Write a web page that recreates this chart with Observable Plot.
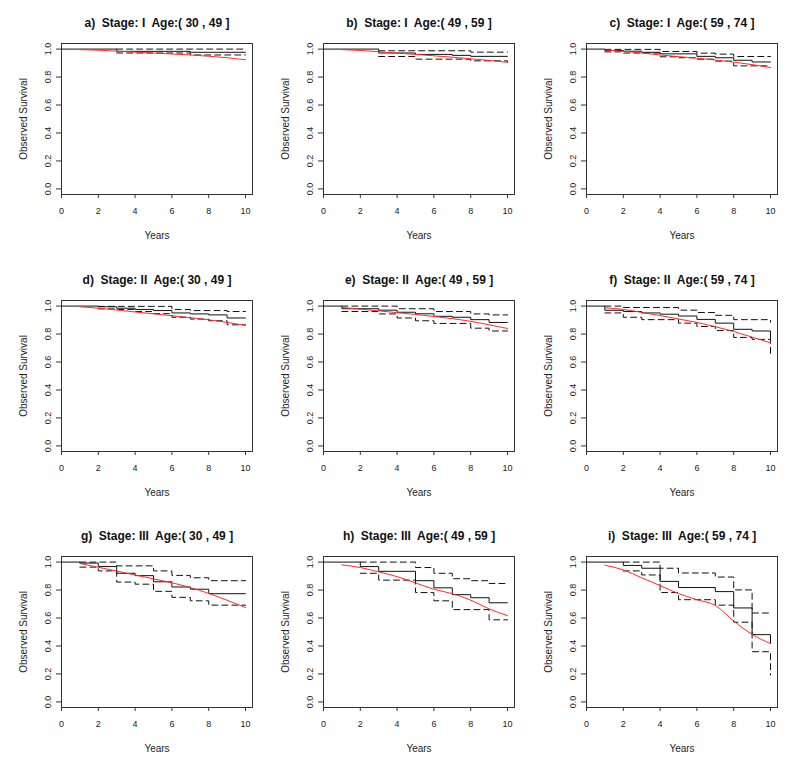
<!DOCTYPE html>
<html><head><meta charset="utf-8">
<script src="https://cdn.jsdelivr.net/npm/d3@7"></script>
<script src="https://cdn.jsdelivr.net/npm/@observablehq/plot@0.6"></script>
<style>
body{margin:0;background:#fff;}
#grid{position:relative;width:800px;height:770px;}
.panel{position:absolute;width:263px;height:257px;}
</style></head><body><div id="grid"></div>
<script>
// ---- data ----
const panelIds = ["a","b","c","d","e","f","g","h","i"];
const stages = ["I","I","I","II","II","II","III","III","III"];
const ageGroups = ["( 30 , 49 ]","( 49 , 59 ]","( 59 , 74 ]","( 30 , 49 ]","( 49 , 59 ]","( 59 , 74 ]","( 30 , 49 ]","( 49 , 59 ]","( 59 , 74 ]"];
const yearTicks = [0,2,4,6,8,10];
const survTicks = [0,0.2,0.4,0.6,0.8,1.0];
const expectedYears = [1,2,3,4,5,6,7,8,9,10];

// observed Kaplan-Meier [year, survival]
const obsA = [[0,1],[3,0.984],[7,0.977],[10,0.977]];
const obsB = [[0,1],[3,0.972],[5,0.962],[7,0.955],[8,0.948],[10,0.948]];
const obsC = [[0,1],[1,0.99],[2,0.985],[3,0.977],[4,0.966],[6,0.948],[7,0.938],[8,0.92],[9,0.908],[10,0.908]];
const obsD = [[0,1],[2,0.995],[3,0.985],[4,0.976],[5,0.968],[6,0.951],[7,0.944],[8,0.937],[9,0.915],[10,0.915]];
const obsE = [[0,1],[1,0.981],[3,0.971],[4,0.956],[5,0.945],[6,0.927],[7,0.92],[8,0.903],[9,0.883],[10,0.883]];
const obsF = [[0,1],[1,0.97],[2,0.961],[3,0.951],[4,0.942],[5,0.929],[6,0.905],[7,0.878],[8,0.834],[9,0.822],[10,0.745]];
const obsG = [[0,1],[1,0.993],[2,0.968],[3,0.92],[4,0.903],[5,0.859],[6,0.822],[7,0.806],[8,0.774],[10,0.774]];
const obsH = [[0,1],[2,0.968],[3,0.934],[5,0.867],[6,0.816],[7,0.767],[8,0.745],[9,0.709],[10,0.709]];
const obsI = [[0,1],[2,0.976],[3,0.956],[4,0.862],[5,0.818],[7,0.789],[8,0.672],[9,0.481],[10,0.42]];

// lower confidence limit
const loA = [[3,0.972],[7,0.958],[10,0.958]];
const loB = [[3,0.947],[5,0.928],[8,0.916],[10,0.905]];
const loC = [[1,0.98],[2,0.972],[4,0.945],[5,0.938],[6,0.928],[7,0.914],[8,0.88],[10,0.88]];
const loD = [[2,0.98],[3,0.976],[4,0.961],[5,0.946],[6,0.92],[7,0.907],[8,0.895],[9,0.866],[10,0.866]];
const loE = [[1,0.961],[3,0.944],[4,0.915],[5,0.895],[6,0.876],[8,0.842],[9,0.822],[10,0.822]];
const loF = [[1,0.951],[2,0.92],[3,0.903],[5,0.878],[6,0.854],[7,0.825],[8,0.776],[9,0.762],[10,0.66]];
const loG = [[1,0.964],[2,0.937],[3,0.857],[4,0.842],[5,0.791],[6,0.748],[7,0.723],[8,0.692],[10,0.692]];
const loH = [[2,0.92],[3,0.871],[5,0.782],[6,0.723],[7,0.66],[9,0.587],[10,0.587]];
const loI = [[2,0.937],[3,0.908],[4,0.782],[5,0.731],[7,0.692],[8,0.57],[9,0.359],[10,0.192]];

// upper confidence limit
const hiA = [[3,1],[10,1]];
const hiB = [[3,0.988],[8,0.978],[10,0.978]];
const hiC = [[1,0.998],[4,0.983],[6,0.971],[7,0.964],[8,0.947],[10,0.947]];
const hiD = [[2,0.998],[6,0.976],[7,0.968],[9,0.961],[10,0.961]];
const hiE = [[1,1],[4,0.981],[6,0.961],[8,0.944],[9,0.937],[10,0.937]];
const hiF = [[1,1],[2,0.99],[5,0.971],[6,0.954],[7,0.934],[8,0.903],[10,0.885]];
const hiG = [[1,1],[3,0.973],[5,0.937],[6,0.905],[7,0.888],[8,0.867],[10,0.867]];
const hiH = [[2,1],[5,0.961],[6,0.92],[7,0.881],[8,0.867],[9,0.847],[10,0.847]];
const hiI = [[2,1],[4,0.956],[5,0.922],[7,0.893],[8,0.801],[9,0.636],[10,0.636]];

// expected survival (red), at years 1..10
const expA = [0.996,0.992,0.985,0.978,0.972,0.965,0.958,0.949,0.938,0.924];
const expB = [0.996,0.99,0.981,0.971,0.962,0.952,0.942,0.931,0.919,0.905];
const expC = [0.993,0.984,0.972,0.958,0.946,0.935,0.922,0.907,0.889,0.868];
const expD = [0.995,0.985,0.972,0.958,0.945,0.931,0.917,0.902,0.883,0.862];
const expE = [0.99,0.978,0.966,0.953,0.94,0.926,0.91,0.891,0.866,0.84];
const expF = [0.988,0.976,0.955,0.932,0.908,0.883,0.853,0.818,0.778,0.737];
const expG = [0.99,0.963,0.936,0.908,0.88,0.852,0.818,0.776,0.727,0.675];
const expH = [0.98,0.961,0.93,0.896,0.851,0.806,0.774,0.728,0.665,0.617];
const expI = [0.978,0.944,0.888,0.832,0.775,0.731,0.69,0.578,0.483,0.417];

const observed = [obsA,obsB,obsC,obsD,obsE,obsF,obsG,obsH,obsI];
const lower = [loA,loB,loC,loD,loE,loF,loG,loH,loI];
const upper = [hiA,hiB,hiC,hiD,hiE,hiF,hiG,hiH,hiI];
const expected = [expA,expB,expC,expD,expE,expF,expG,expH,expI];

// ---- layout ----
const colX = [0,262,525];
const rowY = [0,257,513];
const FONT = "Liberation Sans, Arial, Helvetica, sans-serif";
const grid = document.getElementById("grid");
const SP2 = "\u00a0 "; // double space as in the original titles

panelIds.forEach((id, i) => {
  const col = i % 3, row = Math.floor(i / 3);
  const title = `${id})${SP2}Stage: ${stages[i]}${SP2}Age:${ageGroups[i]}`;
  const expData = expectedYears.map((t, k) => [t, expected[i][k]]);
  const chart = Plot.plot({
    width: 263, height: 257,
    marginLeft: 61, marginRight: 11, marginTop: 43, marginBottom: 63,
    style: {fontFamily: FONT, color: "#222", background: "transparent", overflow: "visible"},
    x: {domain: [0, 10.38]},
    y: {domain: [-0.04, 1.04]},
    marks: [
      Plot.frame({stroke: "#333", strokeWidth: 1}),
      Plot.axisX({ticks: yearTicks, tickSize: 4, tickPadding: 9, fontSize: 9, label: null, stroke: "#333"}),
      Plot.axisY({ticks: survTicks, tickSize: 5, tickFormat: () => "", label: null, stroke: "#333"}),
      Plot.text(survTicks, {y: d => d, frameAnchor: "left", text: d => d.toFixed(1), rotate: -90, dx: -13,
        textAnchor: "middle", lineAnchor: "middle", fontSize: 9, fill: "#222"}),
      Plot.text(["Observed Survival"], {frameAnchor: "left", rotate: -90, dx: -38, textAnchor: "middle",
        lineAnchor: "middle", fontSize: 10, fill: "#222"}),
      Plot.text(["Years"], {frameAnchor: "bottom", dy: 41, textAnchor: "middle", lineAnchor: "middle",
        fontSize: 10, fill: "#222"}),
      Plot.text([title], {frameAnchor: "top", dy: -20, textAnchor: "middle", lineAnchor: "middle",
        fontSize: 12, fontWeight: "bold", fill: "#111"}),
      Plot.line(lower[i], {x: d => d[0], y: d => d[1], curve: "step-after", stroke: "#111",
        strokeWidth: 1, strokeDasharray: "6,4"}),
      Plot.line(upper[i], {x: d => d[0], y: d => d[1], curve: "step-after", stroke: "#111",
        strokeWidth: 1, strokeDasharray: "6,4"}),
      Plot.line(observed[i], {x: d => d[0], y: d => d[1], curve: "step-after", stroke: "#111", strokeWidth: 1}),
      Plot.line(expData, {x: d => d[0], y: d => d[1], curve: "monotone-x", stroke: "#ff2a2a", strokeWidth: 1})
    ]
  });
  const div = document.createElement("div");
  div.className = "panel";
  div.style.left = colX[col] + "px";
  div.style.top = rowY[row] + "px";
  div.appendChild(chart);
  grid.appendChild(div);
});
</script>
</body></html>
